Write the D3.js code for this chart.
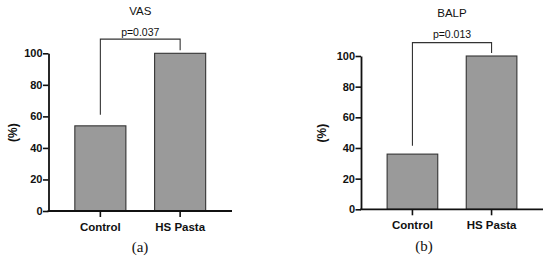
<!DOCTYPE html>
<html>
<head>
<meta charset="utf-8">
<script src="https://cdn.jsdelivr.net/npm/d3@7"></script>
<style>
  body { margin: 0; background: #fff; }
  svg { display: block; }
</style>
</head>
<body>
<div id="chart"></div>
<script>
// data
const categories = ["Control", "HS Pasta"];
const vasValues = [54, 100];
const balpValues = [36, 100];
const yTicks = [0, 20, 40, 60, 80, 100];
const titles = ["VAS", "BALP"];
const pLabels = ["p=0.037", "p=0.013"];
const panelLabels = ["(a)", "(b)"];
// bracket: top level and where each leg stops (in % units)
const bracketTop = [109, 108.7];
const bracketLegs = [[61, 102], [41.5, 102]];

const width = 550, height = 260;
const sans = "'Liberation Sans', Arial, sans-serif";
const svg = d3.select("#chart").append("svg")
    .attr("width", width)
    .attr("height", height);

// panel layout (px)
const panels = [
    {x0: 48.5, x1: 232, y0: 211, y1: 53.3, ylabX: 12.5, titleY: 15, pY: 35.5, catY: 230.7, subX: 140, subY: 252, values: vasValues},
    {x0: 361, x1: 543, y0: 209.3, y1: 56, ylabX: 321.7, titleY: 16.7, pY: 38.3, catY: 229, subX: 424, subY: 251, values: balpValues}
];

panels.forEach((p, i) => drawPanel(p, i));

function drawPanel(p, i) {
    let g = svg.append("g");

    let x = d3.scaleBand()
        .domain(categories)
        .range([p.x0, p.x1])
        .paddingInner(0.36)
        .paddingOuter(0.33);

    let y = d3.scaleLinear()
        .domain([0, 100])
        .range([p.y0, p.y1]);

    // bars
    g.selectAll("rect.bar")
        .data(categories.map((c, j) => ({cat: c, v: p.values[j]})))
        .join("rect")
        .attr("class", "bar")
        .attr("x", d => x(d.cat))
        .attr("y", d => y(d.v))
        .attr("width", x.bandwidth())
        .attr("height", d => y(0) - y(d.v))
        .attr("fill", "#9a9a9a")
        .attr("stroke", "#333")
        .attr("stroke-width", 1.1);

    // y axis
    let yAxis = g.append("g")
        .attr("transform", `translate(${p.x0},0)`)
        .call(d3.axisLeft(y).tickValues(yTicks).tickSize(5.5).tickPadding(0.5).tickSizeOuter(0));
    yAxis.select(".domain").attr("stroke", "#111").attr("stroke-width", 1.8);
    yAxis.selectAll(".tick line").attr("stroke", "#111").attr("stroke-width", 1.6);
    yAxis.selectAll(".tick text")
        .style("font-family", sans)
        .style("font-weight", "bold")
        .style("font-size", "11px")
        .style("fill", "#111");

    // x axis
    let xAxis = g.append("g")
        .attr("transform", `translate(0,${p.y0})`)
        .call(d3.axisBottom(x).tickSize(6).tickPadding(4).tickSizeOuter(0));
    xAxis.select(".domain").attr("stroke", "#111").attr("stroke-width", 1.8)
        .attr("d", `M${p.x0 - 0.9},0H${p.x1}`);
    xAxis.selectAll(".tick line").attr("stroke", "#111").attr("stroke-width", 1.6);
    xAxis.selectAll(".tick text")
        .style("font-family", sans)
        .style("font-weight", "bold")
        .style("font-size", "11.5px")
        .style("fill", "#111")
        .attr("dy", null)
        .attr("y", p.catY - p.y0);

    // y label
    g.append("text")
        .attr("transform", `translate(${p.ylabX + 4},${(p.y0 + p.y1) / 2 + 0.5}) rotate(-90)`)
        .attr("text-anchor", "middle")
        .style("font-family", sans)
        .style("font-weight", "bold")
        .style("font-size", "12px")
        .style("fill", "#111")
        .text("(%)");

    // title
    let cx = (x(categories[0]) + x(categories[1]) + x.bandwidth()) / 2;
    g.append("text")
        .attr("x", cx)
        .attr("y", p.titleY)
        .attr("text-anchor", "middle")
        .style("font-family", sans)
        .style("font-size", "11.5px")
        .style("fill", "#111")
        .text(titles[i]);

    // significance bracket
    let xa = x(categories[0]) + x.bandwidth() / 2,
        xb = x(categories[1]) + x.bandwidth() / 2;
    g.append("path")
        .attr("d", `M${xa},${y(bracketLegs[i][0])}V${y(bracketTop[i])}H${xb}V${y(bracketLegs[i][1])}`)
        .attr("fill", "none")
        .attr("stroke", "#333")
        .attr("stroke-width", 1.1);
    g.append("text")
        .attr("x", (xa + xb) / 2)
        .attr("y", p.pY)
        .attr("text-anchor", "middle")
        .style("font-family", sans)
        .style("font-size", "10.5px")
        .style("fill", "#111")
        .text(pLabels[i]);

    // sub-figure label
    g.append("text")
        .attr("x", p.subX)
        .attr("y", p.subY)
        .attr("text-anchor", "middle")
        .style("font-family", "'Liberation Serif', 'Times New Roman', serif")
        .style("font-size", "15px")
        .style("fill", "#111")
        .text(panelLabels[i]);
}
</script>
</body>
</html>
